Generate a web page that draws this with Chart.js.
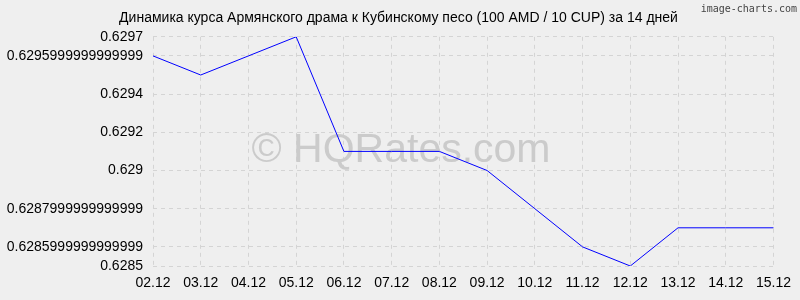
<!DOCTYPE html>
<html>
<head>
<meta charset="utf-8">
<script src="https://cdn.jsdelivr.net/npm/chart.js@4"></script>
<style>
  body { margin: 0; background: #efefef; }
  #wrap { width: 800px; height: 300px; }
</style>
</head>
<body>
<div id="wrap"><canvas id="rateChart"></canvas></div>
<script>
// Data
const dates = ["02.12", "03.12", "04.12", "05.12", "06.12", "07.12", "08.12",
               "09.12", "10.12", "11.12", "12.12", "13.12", "14.12", "15.12"];
const rates = [0.6296, 0.6295, 0.6296, 0.6297, 0.6291, 0.6291, 0.6291,
               0.6290, 0.6288, 0.6286, 0.6285, 0.6287, 0.6287, 0.6287];
const yTickValues = [0.6285, 0.6286, 0.6288, 0.6290, 0.6292, 0.6294, 0.6296, 0.6297];
const yTickLabels = ["0.6285", "0.6285999999999999", "0.6287999999999999", "0.629",
                     "0.6292", "0.6294", "0.6295999999999999", "0.6297"];

const titleText = "Динамика курса Армянского драма к Кубинскому песо (100 AMD / 10 CUP) за 14 дней";

// watermark + credit text
const overlay = {
    id: "overlay",
    beforeDatasetsDraw(chart) {
        const ctx = chart.ctx;
        ctx.save();
        ctx.font = "41px 'Liberation Sans', Arial, sans-serif";
        ctx.fillStyle = "#cbcbcb";
        ctx.textAlign = "center";
        ctx.textBaseline = "alphabetic";
        ctx.fillText("© HQRates.com", 401, 162);
        ctx.restore();
    },
    afterDraw(chart) {
        const ctx = chart.ctx;
        ctx.save();
        ctx.font = "10px 'DejaVu Sans Mono', monospace";
        ctx.fillStyle = "#444";
        ctx.textAlign = "right";
        ctx.textBaseline = "middle";
        ctx.fillText("image-charts.com", 797, 9);
        ctx.restore();
    }
};

const gridStyle = {
    color: "#d4d4d4",
    lineWidth: 1,
    drawTicks: false
};

new Chart(document.getElementById("rateChart"), {
    type: "line",
    data: {
        labels: dates,
        datasets: [{
            data: rates,
            borderColor: "#0000ff",
            borderWidth: 1,
            pointRadius: 0,
            tension: 0,
            fill: false
        }]
    },
    options: {
        responsive: true,
        maintainAspectRatio: false,
        animation: false,
        layout: { padding: { top: 0, right: 3, bottom: 0, left: 0 } },
        plugins: {
            legend: { display: false },
            tooltip: { enabled: false },
            title: {
                display: true,
                text: titleText,
                color: "#000",
                font: { family: "'Liberation Sans', Arial, sans-serif", size: 14, weight: "normal" },
                padding: { top: 10, bottom: 10 }
            }
        },
        scales: {
            x: {
                offset: false,
                grid: gridStyle,
                border: { display: false, dash: [4, 4] },
                ticks: {
                    color: "#000",
                    padding: 9,
                    maxRotation: 0,
                    autoSkip: false,
                    font: { family: "'Liberation Sans', Arial, sans-serif", size: 14 }
                },
                afterFit(scale) { scale.height = 34; }
            },
            y: {
                min: 0.6285,
                max: 0.6297,
                grid: gridStyle,
                border: { display: false, dash: [4, 4] },
                afterBuildTicks(scale) {
                    scale.ticks = yTickValues.map(v => ({ value: v }));
                },
                ticks: {
                    color: "#000",
                    padding: 10,
                    font: { family: "'Liberation Sans', Arial, sans-serif", size: 14 },
                    callback: (value, index) => yTickLabels[index]
                },
                afterFit(scale) { scale.width = 153; }
            }
        }
    },
    plugins: [overlay]
});
</script>
</body>
</html>
